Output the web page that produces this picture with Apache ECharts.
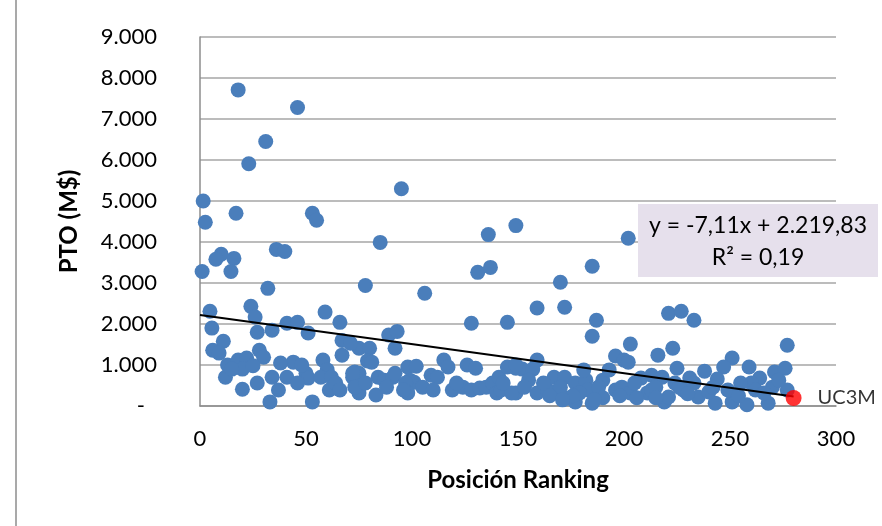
<!DOCTYPE html>
<html>
<head>
<meta charset="utf-8">
<script src="https://cdn.jsdelivr.net/npm/echarts@6/dist/echarts.min.js"></script>
<style>
html,body{margin:0;padding:0;background:#fff;}
#chart{width:882px;height:526px;}
</style>
</head>
<body>
<div id="chart"></div>
<script>
// Data: [Posición Ranking, PTO (M$)]
const universityPoints = [
  [18,7710],[46,7280],[31,6450],[23,5910],[95,5300],[1.5,5000],[53,4700],[55,4530],[2.5,4480],[17,4700],
  [85,3990],[136,4180],[149,4400],[202,4090],[36,3820],[40,3770],[10,3700],[7.5,3580],[16,3600],[1,3280],
  [14.6,3280],[32,2870],[78,2940],[131,3260],[137,3380],[106,2750],[185,3410],[170,3020],[159,2390],[172,2410],
  [128,2020],[145,2040],[187,2090],[185,1700],[221,2260],[227,2310],[233,2090],[203,1510],[216,1240],[223,1410],[277,1480],
  [225,920],[238,850],[231,680],[251,1170],[247,950],[259,950],[271,830],[276,920],[264,680],[244,660],
  [228,390],[235,220],[243,70],[251,100],[258,30],[268,70],[277,390],[249,390],[260,560],[240,340],[270,460],
  [196,1220],[200,1120],[202,1070],[159,1120],[149,920],[152,900],[157,900],[155,630],[149,320],[159,320],
  [164,390],[167,700],[167,340],[172,700],[177,560],[182,630],[181,880],[174,195],[177,100],[185,70],
  [183,390],[190,630],[193,880],[196,390],[199,460],[203,320],[208,680],[213,750],[218,700],[211,320],
  [213,390],[219,100],[221,220],[224,560],
  [89,1730],[93,1820],[92,1410],[75,1410],[80,1410],[79,1100],[81,1070],[73,830],[75,800],[84,700],
  [87,630],[91,700],[92,800],[98,950],[102,970],[99,630],[101,580],[97,560],[98,320],[109,750],
  [112,700],[115,1120],[117,950],[126,1000],[130,920],[119,390],[124,460],[128,390],[132,440],[135,460],
  [138,560],[140,320],[142,390],[141,700],[145,950],[149,1000],[147,320],[75,320],[83,270],
  [4.7,2310],[24,2430],[26,2170],[59,2290],[66,2040],[5.6,1900],[27,1800],[34,1850],[41,2020],[46,2040],
  [51,1780],[11,1580],[6,1360],[9,1290],[28,1360],[30,1190],[13,1000],[12,700],[18,1120],[22,1170],
  [20,900],[20,410],[34,700],[37,390],[41,700],[33,100],[44,1070],[50,800],[51,680],[53,100],
  [58,1120],[60,880],[57,700],[62,700],[61,390],[64,560],[67,1600],[67,1240],[71,1530],[72,700],
  [72,800],[73,460],
  [162,560],[170,460],[179,320],[188,460],[205,560],[215,460],[226,460],[233,560],[242,460],[255,560],
  [262,390],[266,320],[273,630],[254,250],[230,300],[206,200],[190,200],[165,250],[153,460],[143,560],
  [121,560],[105,460],[110,390],[88,460],[96,390],[78,560],[66,390],[46,560],[27,560],[25,980],
  [15,900],[48,1000],[38,1050],[176,250],[186,150],[171,150],[198,250],[215,200]
];
const highlightPoint = [[280,195]];
const highlightLabel = 'UC3M';
const trendSlope = -7.11;
const trendIntercept = 2219.83;
const trendRange = [0, 280];
const equationText = 'y = -7,11x + 2.219,83';
const r2Text = 'R² = 0,19';
const xTicks = [0,50,100,150,200,250,300];
const yTicks = [0,1000,2000,3000,4000,5000,6000,7000,8000,9000];

const trendData = trendRange.map(x => [x, trendIntercept + trendSlope * x]);

function fmtThousands(v){
  if (v === 0) return '{dash|-}';
  return String(v).replace(/\B(?=(\d{3})+(?!\d))/g, '.');
}

const FONT = 'Lato';
const chart = echarts.init(document.getElementById('chart'), null, {renderer:'canvas'});
chart.setOption({
  animation:false,
  backgroundColor:'#ffffff',
  textStyle:{fontFamily:FONT},
  grid:{left:200,right:46,top:37,bottom:120,containLabel:false},
  xAxis:{
    type:'value', min:xTicks[0], max:xTicks[xTicks.length-1], interval:50,
    name:'Posición Ranking', nameLocation:'middle', nameGap:62,
    nameTextStyle:{fontFamily:FONT,fontSize:24,fontWeight:'bold',color:'#000'},
    axisLine:{show:true,onZero:false,lineStyle:{color:'#8c8c8c',width:1.5}},
    axisTick:{show:false},
    splitLine:{show:false},
    axisLabel:{color:'#000',fontFamily:FONT,fontSize:22,margin:22}
  },
  yAxis:{
    type:'value', min:yTicks[0], max:yTicks[yTicks.length-1], interval:1000,
    name:'PTO (M$)', nameLocation:'middle', nameGap:119,
    nameTextStyle:{fontFamily:FONT,fontSize:24,fontWeight:'bold',color:'#000'},
    axisLine:{show:true,lineStyle:{color:'#8c8c8c',width:1.5}},
    axisTick:{show:false},
    splitLine:{show:true,lineStyle:{color:'#a6a6a6',width:1.5}},
    axisLabel:{color:'#000',fontFamily:FONT,fontSize:22,margin:43,
      formatter:fmtThousands,
      rich:{dash:{fontFamily:FONT,fontSize:22,color:'#000',padding:[0,12,0,0]}}}
  },
  series:[
    {
      type:'scatter', data:universityPoints, symbolSize:15,
      itemStyle:{color:'#4a7ebb',opacity:1}, z:2
    },
    {
      type:'line', data:trendData, symbol:'none',
      lineStyle:{color:'#000',width:2}, z:3
    },
    {
      type:'scatter', data:highlightPoint, symbolSize:16,
      itemStyle:{color:'#ff0000'}, z:4,
      label:{show:true,position:'right',distance:16,formatter:highlightLabel,
        color:'#000',fontFamily:FONT,fontSize:20}
    }
  ],
  graphic:[
    {type:'line',shape:{x1:16,y1:0,x2:16,y2:526},style:{stroke:'#8c8c8c',lineWidth:1.5}},
    {type:'rect',shape:{x:638,y:204,width:240,height:73},style:{fill:'#e6e0ec'},z:10},
    {type:'text',x:758,y:226,z:11,style:{text:equationText,fill:'#000',font:'23px '+FONT,textAlign:'center',textVerticalAlign:'middle'}},
    {type:'text',x:758,y:258,z:11,style:{text:r2Text,fill:'#000',font:'23px '+FONT,textAlign:'center',textVerticalAlign:'middle'}}
  ]
});
</script>
</body>
</html>
